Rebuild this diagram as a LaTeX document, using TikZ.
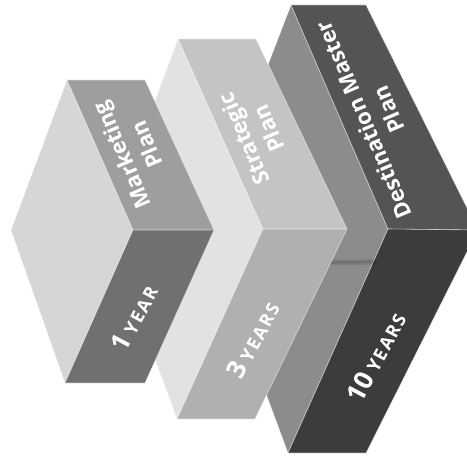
\documentclass[tikz,border=0pt]{standalone}
\usepackage{fontspec}
\setmainfont{Open Sans}
\definecolor{bOneLeft}{HTML}{D6D6D6}
\definecolor{bOneTop}{HTML}{9E9E9E}
\definecolor{bOneBot}{HTML}{707070}
\definecolor{bTwoLeft}{HTML}{E2E2E2}
\definecolor{bTwoTop}{HTML}{C4C4C4}
\definecolor{bTwoBot}{HTML}{B0B0B0}
\definecolor{bThrLeft}{HTML}{8C8C8C}
\definecolor{bThrTop}{HTML}{545454}
\definecolor{bThrBot}{HTML}{3C3C3C}
\newcommand{\yrnum}[1]{{\fontsize{26}{26}\selectfont #1}\hspace{5pt}}
\newcommand{\yrword}[1]{{\fontsize{18}{20}\selectfont\addfontfeature{LetterSpace=10}#1}}
\begin{document}
\begin{tikzpicture}[x=1pt,y=-1pt,
  face/.style={draw=white, draw opacity=0.55, line width=0.6pt, line join=round},
  planlabel/.style={text=white, font=\fontsize{22}{27}\selectfont\bfseries, align=center, inner sep=0pt, rotate=113},
  yearlabel/.style={text=white, font=\bfseries, inner sep=0pt, rotate=62},
]
\fill[white] (0,0) rectangle (467,460);
\clip (0,0) rectangle (467,460);
% block 3 (10 years)
\coordinate (T3) at (291,5);  \coordinate (T3e) at (366,5);
\coordinate (R3) at (388,229); \coordinate (R3e) at (478,230);
\coordinate (B3) at (288,453); \coordinate (B3e) at (366,453);
\coordinate (L3) at (205,229);
% block 2 (3 years)
\coordinate (T2) at (178,39);  \coordinate (T2e) at (256,39);
\coordinate (R2) at (263,229); \coordinate (R2e) at (347,229);
\coordinate (B2) at (177,419); \coordinate (B2e) at (255,419);
\coordinate (L2) at (107,229);
% block 1 (1 year)
\coordinate (T1) at (67,80);   \coordinate (T1e) at (145,80);
\coordinate (R1) at (133,230); \coordinate (R1e) at (214,230);
\coordinate (B1) at (65,383);  \coordinate (B1e) at (145,383);
\coordinate (L1) at (11,230);

% block 3
\filldraw[face, fill=bThrLeft] (T3) -- (R3) -- (B3) -- (L3) -- cycle;
\filldraw[face, fill=bThrTop] (T3) -- (T3e) -- (R3e) -- (R3) -- cycle;
\filldraw[face, fill=bThrBot] (R3) -- (R3e) -- (B3e) -- (B3) -- cycle;
% faint scanning streak
\coordinate (s1) at (292,263); \coordinate (s2) at (375,262);
\draw[black, opacity=0.08, line width=6pt, line cap=round] (s1) -- (s2);
\draw[black, opacity=0.12, line width=2.5pt, line cap=round] (s1) -- (s2);

% block 2
\filldraw[face, fill=bTwoLeft] (T2) -- (R2) -- (B2) -- (L2) -- cycle;
\filldraw[face, fill=bTwoTop] (T2) -- (T2e) -- (R2e) -- (R2) -- cycle;
\filldraw[face, fill=bTwoBot] (R2) -- (R2e) -- (B2e) -- (B2) -- cycle;

% block 1
\filldraw[face, fill=bOneLeft] (T1) -- (R1) -- (B1) -- (L1) -- cycle;
\filldraw[face, fill=bOneTop] (T1) -- (T1e) -- (R1e) -- (R1) -- cycle;
\filldraw[face, fill=bOneBot] (R1) -- (R1e) -- (B1e) -- (B1) -- cycle;

% labels
\node[planlabel] (mp) at (134,150) {Marketing\\Plan};
\node[planlabel] (sp) at (256,134) {Strategic\\Plan};
\node[planlabel] (dmp) at (376,115) {Destination Master\\Plan};

\node[yearlabel] (y1) at (134,318) {\yrnum{1}\yrword{YEAR}};
\node[yearlabel] (y3) at (253,340) {\yrnum{3}\yrword{YEARS}};
\node[yearlabel] (y10) at (376,357) {\yrnum{10}\yrword{YEARS}};
\end{tikzpicture}
\end{document}
